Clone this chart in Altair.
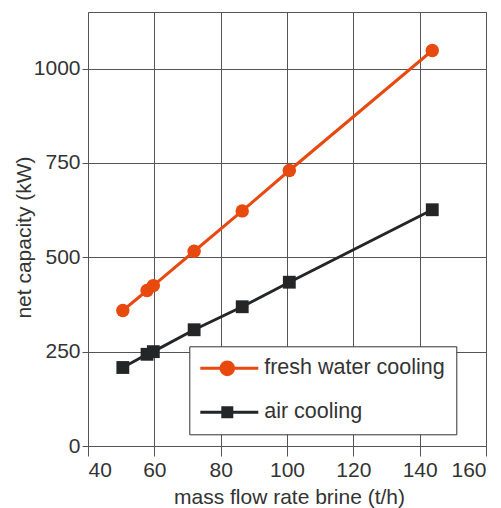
import altair as alt
import pandas as pd

flow = [50.5, 57.8, 59.7, 72.0, 86.5, 100.7, 143.8]
fresh_water = [359, 412, 425, 516, 623, 730, 1048]
air = [208, 243, 250, 308, 369, 434, 626]
series_names = ["fresh water cooling", "air cooling"]
series_colors = ["#E8490F", "#232527"]
marker_shapes = ["circle", "square"]
marker_sizes = [180, 165]
x_ticks = [40, 60, 80, 100, 120, 140, 160]
y_ticks = [0, 250, 500, 750, 1000]

df = pd.DataFrame({
    "flow": flow * 2,
    "cap": fresh_water + air,
    "series": [series_names[0]] * len(flow) + [series_names[1]] * len(flow),
})

FONT = "Liberation Sans"

x_enc = alt.X(
    "flow:Q",
    scale=alt.Scale(domain=[40, 160], nice=False, zero=False),
    axis=alt.Axis(values=x_ticks, title="mass flow rate brine (t/h)", format="d",
                  tickSize=10, labelPadding=20.7, labelBaseline="alphabetic",
                  titleX=201, titleY=57.3, titleBaseline="alphabetic", titleAlign="center"),
)
y_enc = alt.Y(
    "cap:Q",
    scale=alt.Scale(domain=[0, 1150], nice=False),
    axis=alt.Axis(values=y_ticks, title="net capacity (kW)", format="d",
                  tickSize=6, labelPadding=2, labelBaseline="middle",
                  titleX=-58, titleY=225, titleAngle=270,
                  titleBaseline="alphabetic", titleAlign="center"),
)

base = alt.Chart(df)
layers = []
for name, col, shp, sz in zip(series_names, series_colors, marker_shapes, marker_sizes):
    sub = base.transform_filter(alt.datum.series == name)
    layers.append(sub.mark_line(strokeWidth=3, color=col).encode(x=x_enc, y=y_enc))
for name, col, shp, sz in zip(series_names, series_colors, marker_shapes, marker_sizes):
    sub = base.transform_filter(alt.datum.series == name)
    layers.append(sub.mark_point(shape=shp, filled=True, size=sz, opacity=1, color=col)
                  .encode(x=x_enc, y=y_enc))

# legend symbols: line segment with marker in the middle (unit = 25 px)
path_circle = "M-1.24,0L1.24,0M-0.254,0A0.254,0.254,0,1,0,0.254,0A0.254,0.254,0,1,0,-0.254,0Z"
path_square = "M-1.24,0L1.24,0M-0.18,-0.18L0.18,-0.18L0.18,0.18L-0.18,0.18Z"

leg = alt.Legend(
    orient="none", legendX=101.3, legendY=334.3,
    fillColor="white", strokeColor="#333333", padding=11, rowPadding=22,
    clipHeight=22,
    labelFont=FONT, labelFontSize=21.5, labelColor="#333333", labelOffset=10.4,
    labelLimit=0, symbolOffset=0.5,
    symbolSize=2500, symbolStrokeWidth=3, symbolOpacity=1,
)
legend_layer = base.mark_point(
    filled=True, size=2500, strokeWidth=3, opacity=0
).encode(
    x=x_enc, y=y_enc,
    fill=alt.Fill("series:N", scale=alt.Scale(domain=series_names, range=series_colors), legend=leg, title=""),
    stroke=alt.Stroke("series:N", scale=alt.Scale(domain=series_names, range=series_colors), legend=leg, title=""),
    shape=alt.Shape("series:N", scale=alt.Scale(domain=series_names, range=[path_circle, path_square]), legend=leg, title=""),
)
layers.append(legend_layer)

chart = alt.layer(*layers).properties(
    width=398, height=434,
    padding={"left": 88, "top": 12, "right": 15, "bottom": 62},
    autosize=alt.AutoSizeParams(type="none"),
    background="white",
).configure_view(
    stroke="#555555", strokeWidth=1
).configure_axis(
    domain=False, grid=True, gridColor="#555555", gridOpacity=1, gridWidth=1,
    tickColor="#555555", tickWidth=1,
    labelFont=FONT, labelFontSize=21, labelColor="#333333",
    titleFont=FONT, titleFontSize=21, titleFontWeight="normal", titleColor="#333333",
)

chart.save("out.html", embed_options={"renderer": "svg", "actions": False})
